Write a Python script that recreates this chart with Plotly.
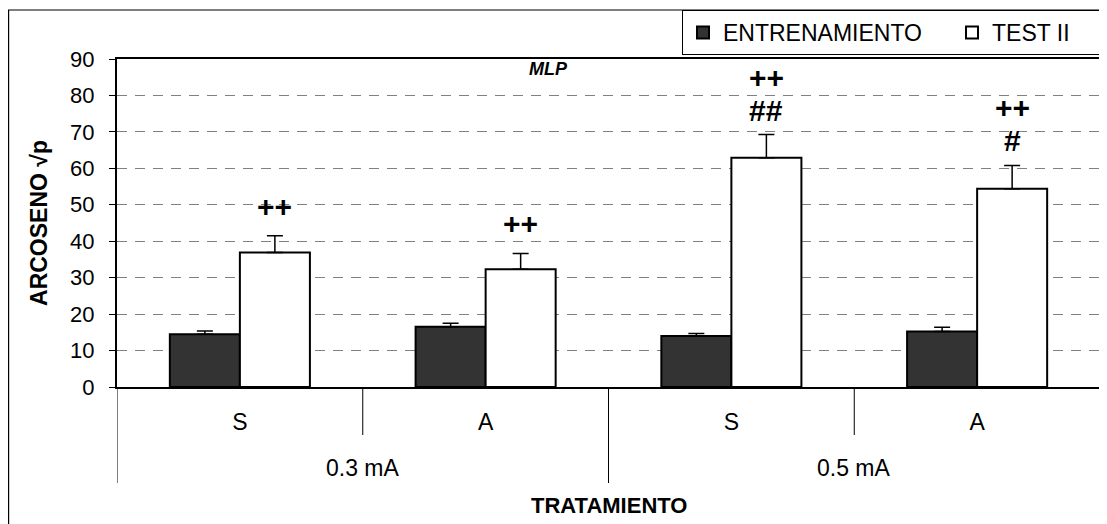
import plotly.graph_objects as go

# ---- data ----
outer_labels = ["0.3 mA", "0.3 mA", "0.5 mA", "0.5 mA"]
inner_labels = ["S", "A", "S", "A"]
entrenamiento = [14.5, 16.5, 14.0, 15.2]
entrenamiento_err = [0.9, 1.0, 0.7, 1.2]
test_ii = [36.9, 32.3, 62.9, 54.4]
test_ii_err = [4.6, 4.3, 6.4, 6.4]
# significance marks: (group index, text, y value)
marks_group = [0, 1, 2, 2, 3, 3]
marks_text = ["++", "++", "++", "##", "++", "#"]
marks_y = [49.4, 44.8, 85.0, 76.0, 76.6, 67.6]

BARGAP = 0.43
bar_w = (1 - BARGAP) / 2

# page body has an 8px margin: the figure starts at window pixel (8, 8)
OFF = 8
W, H = 1107 - OFF, 524 - OFF
ML = 117 - OFF
MR = W - (1100 - OFF)
MT = 59 - OFF
MB = H - (387 - OFF)
PW, PH = W - ML - MR, H - MT - MB


def px_y(wy):
    """window pixel row -> paper y"""
    return (H - MB - (wy - OFF)) / PH


def px_x(wx):
    """window pixel column -> paper x"""
    return ((wx - OFF) - ML) / PW


font = "Liberation Sans, Arial, sans-serif"
idx = list(range(len(inner_labels)))

fig = go.Figure()
fig.add_trace(go.Bar(
    name="ENTRENAMIENTO", x=idx, y=entrenamiento,
    marker=dict(color="#333333", line=dict(color="black", width=2)),
    error_y=dict(type="data", array=entrenamiento_err, arrayminus=[0] * 4,
                 symmetric=False, color="black", thickness=1.5, width=8),
))
fig.add_trace(go.Bar(
    name="TEST II", x=idx, y=test_ii,
    marker=dict(color="white", line=dict(color="black", width=2)),
    error_y=dict(type="data", array=test_ii_err, arrayminus=[0] * 4,
                 symmetric=False, color="black", thickness=1.5, width=8),
))

# significance marks above the TEST II bars
for g, t, yv in zip(marks_group, marks_text, marks_y):
    fig.add_annotation(x=g + bar_w / 2, y=yv, xref="x", yref="y", text="<b>" + t + "</b>",
                       showarrow=False, font=dict(family=font, size=30, color="black"),
                       xanchor="center", yanchor="middle")

# outer category labels and dividers
outer_groups = []
for lab in outer_labels:
    if lab not in outer_groups:
        outer_groups.append(lab)
for lab in outer_groups:
    members = [i for i, l in enumerate(outer_labels) if l == lab]
    fig.add_annotation(x=sum(members) / len(members), y=px_y(468), xref="x", yref="paper",
                       text=lab, showarrow=False, font=dict(family=font, size=23, color="black"),
                       xanchor="center", yanchor="middle")

bounds_outer = [-0.5] + [i + 0.5 for i in range(len(outer_labels) - 1)
                         if outer_labels[i] != outer_labels[i + 1]] + [len(outer_labels) - 0.5]
bounds_inner = [i + 0.5 for i in range(len(outer_labels) - 1)
                if outer_labels[i] == outer_labels[i + 1]]
for b in bounds_outer:
    fig.add_shape(type="line", xref="x", yref="paper", x0=b, x1=b, y0=0, y1=px_y(483),
                  line=dict(color="black", width=1))
for b in bounds_inner:
    fig.add_shape(type="line", xref="x", yref="paper", x0=b, x1=b, y0=0, y1=px_y(435),
                  line=dict(color="black", width=1))

# title inside plot
fig.add_annotation(x=px_x(548), y=px_y(69), xref="paper", yref="paper",
                   text="<b><i>MLP</i></b>", showarrow=False,
                   font=dict(family=font, size=18, color="black"),
                   xanchor="center", yanchor="middle")

# x axis title
fig.add_annotation(x=0.5, y=px_y(505), xref="paper", yref="paper",
                   text="<b>TRATAMIENTO</b>", showarrow=False,
                   font=dict(family=font, size=22, color="black"),
                   xanchor="center", yanchor="middle")

# outer border of chart
fig.add_shape(type="rect", xref="paper", yref="paper",
              x0=px_x(8.6), x1=px_x(1112), y0=px_y(530), y1=px_y(10),
              line=dict(color="black", width=1.2), layer="below")

fig.update_layout(
    width=W, height=H,
    margin=dict(l=ML, r=MR, t=MT, b=MB, autoexpand=False),
    paper_bgcolor="white", plot_bgcolor="white",
    barmode="group", bargap=BARGAP, bargroupgap=0,
    font=dict(family=font, size=22, color="black"),
    showlegend=True,
    legend=dict(orientation="h", x=px_x(682), xanchor="left",
                y=px_y(10), yanchor="top",
                bordercolor="black", borderwidth=1, bgcolor="white",
                font=dict(family=font, size=23), entrywidth=224, entrywidthmode="pixels",
                traceorder="normal"),
    xaxis=dict(range=[-0.5, len(idx) - 0.5], tickmode="array", tickvals=idx, ticktext=inner_labels,
               showline=True, linecolor="black", linewidth=2, mirror=True,
               ticks="", showgrid=False, zeroline=False, ticklabelstandoff=13,
               tickfont=dict(family=font, size=23), automargin=False),
    yaxis=dict(range=[0, 90], dtick=10, showline=True, linecolor="black", linewidth=2,
               mirror=True, ticks="outside", ticklen=6, tickcolor="black",
               showgrid=True, gridcolor="#808080", gridwidth=1, griddash="10px,8px",
               zeroline=False, tickfont=dict(family=font, size=22), ticklabelstandoff=10,
               automargin=False,
               title=dict(text="<b>ARCOSENO √p</b>", font=dict(family=font, size=23), standoff=16)),
)

fig.write_html("out.html")
